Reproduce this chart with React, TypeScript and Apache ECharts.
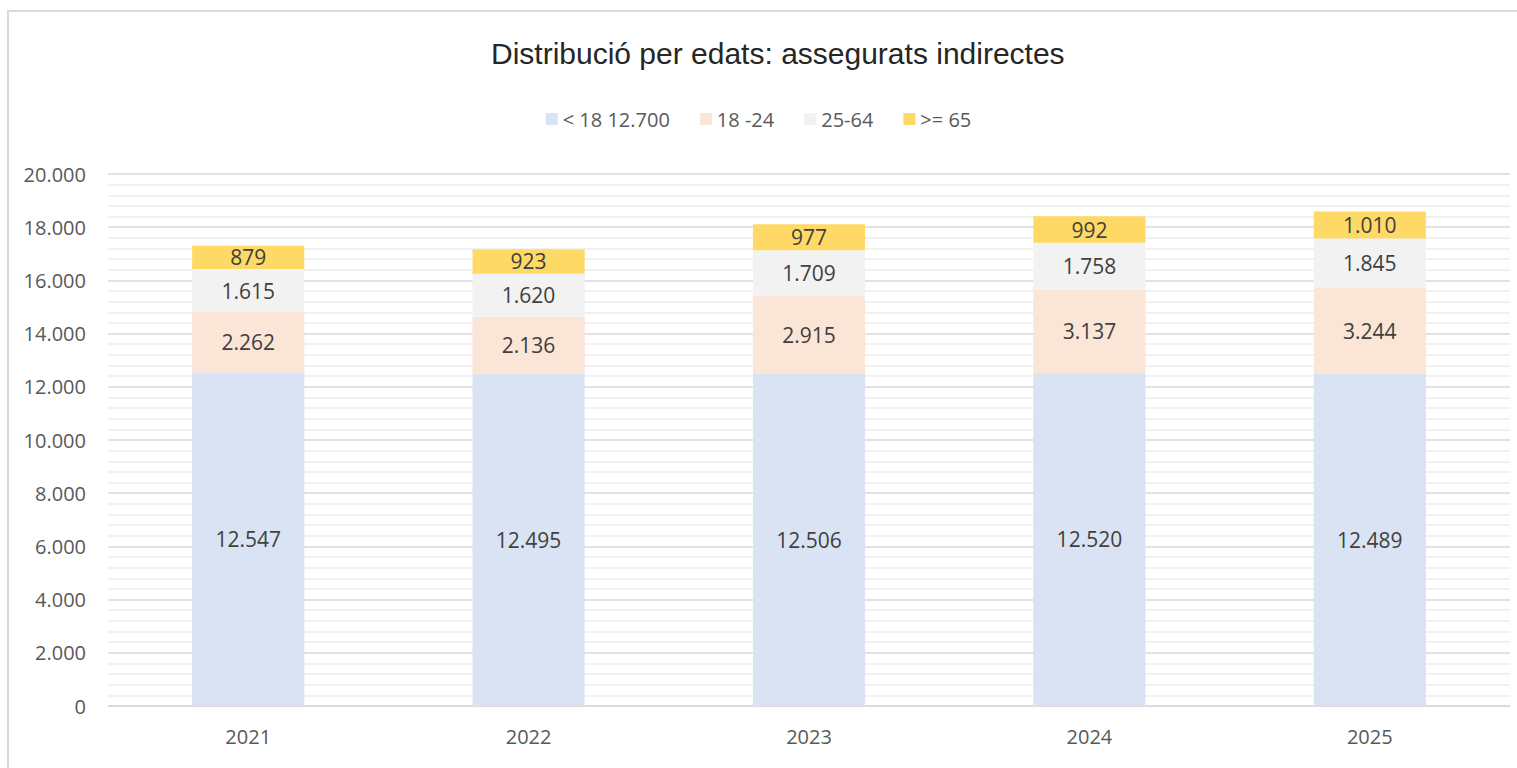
import React, { useEffect, useRef } from "react";
import * as echarts from "echarts";

const years = ["2021", "2022", "2023", "2024", "2025"];
const seriesNames = ["< 18 12.700", "18 -24", "25-64", ">= 65"];
const under18 = [12547, 12495, 12506, 12520, 12489];
const age18to24 = [2262, 2136, 2915, 3137, 3244];
const age25to64 = [1615, 1620, 1709, 1758, 1845];
const over65 = [879, 923, 977, 992, 1010];
const colors = ["#DAE3F3", "#FBE5D6", "#F2F2F2", "#FFD966"];

const fmt = (v: number) =>
  String(Math.round(v)).replace(/\B(?=(\d{3})+(?!\d))/g, ".");

export default function App() {
  const ref = useRef<HTMLDivElement>(null);
  useEffect(() => {
    if (!ref.current) return;
    const chart = echarts.init(ref.current, null, { renderer: "svg" });
    const values = [under18, age18to24, age25to64, over65];
    const font = "'Open Sans', 'Noto Sans', sans-serif";
    chart.setOption({
      animation: false,
      backgroundColor: "#ffffff",
      title: {
        text: "Distribució per edats: assegurats indirectes",
        left: 486,
        top: 33,
        textStyle: {
          fontFamily: "'Liberation Sans', Arial, sans-serif",
          fontSize: 30,
          fontWeight: "normal",
          color: "#262626",
        },
      },
      legend: {
        top: 104,
        left: "center",
        itemWidth: 12,
        itemHeight: 12,
        itemGap: 30,
        icon: "rect",
        textStyle: { fontFamily: font, fontSize: 20, color: "#595959" },
        data: seriesNames,
      },
      graphic: [
        {
          type: "line",
          shape: { x1: 7, y1: 11, x2: 1517, y2: 11 },
          style: { stroke: "#D9D9D9", lineWidth: 2 },
        },
        {
          type: "line",
          shape: { x1: 8, y1: 11, x2: 8, y2: 768 },
          style: { stroke: "#D9D9D9", lineWidth: 2 },
        },
      ],
      grid: { left: 108, right: 7, top: 174, bottom: 62, containLabel: false },
      xAxis: {
        type: "category",
        data: years,
        axisLine: { lineStyle: { color: "#D9D9D9", width: 1.5 } },
        axisTick: { show: false },
        axisLabel: {
          fontFamily: font,
          fontSize: 20,
          color: "#595959",
          margin: 20,
        },
      },
      yAxis: {
        type: "value",
        min: 0,
        max: 20000,
        interval: 2000,
        axisLine: { show: false },
        axisTick: { show: false },
        axisLabel: {
          fontFamily: font,
          fontSize: 20,
          color: "#595959",
          margin: 22,
          formatter: (v: number) => fmt(v),
        },
        splitLine: { lineStyle: { color: "#D9D9D9", width: 1.5 } },
        minorTick: { show: false, splitNumber: 5 },
        minorSplitLine: { show: true, lineStyle: { color: "#EDEDED", width: 1.5 } },
      },
      series: seriesNames.map((name, i) => ({
        name,
        type: "bar",
        stack: "total",
        barWidth: "40%",
        data: values[i],
        itemStyle: { color: colors[i] },
        label: {
          show: true,
          position: "inside",
          fontFamily: font,
          fontSize: 21,
          color: "#404040",
          formatter: (p: any) => fmt(p.value),
        },
      })),
    });
    return () => chart.dispose();
  }, []);
  return (
    <div
      ref={ref}
      style={{ position: "fixed", left: 0, top: 0, width: 1517, height: 768 }}
    />
  );
}
